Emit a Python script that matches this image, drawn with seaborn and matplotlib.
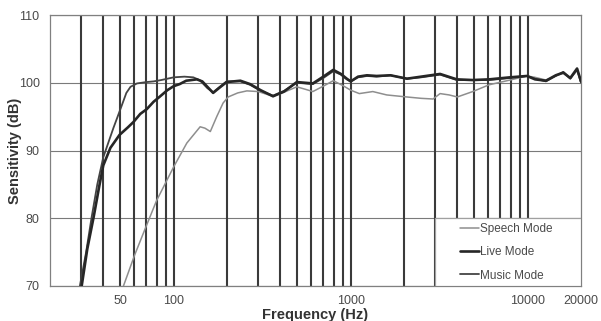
import matplotlib
matplotlib.use("Agg")
import matplotlib.pyplot as plt
from matplotlib.ticker import FixedLocator, FixedFormatter, NullLocator
from matplotlib.patches import Rectangle
import seaborn as sns
import pandas as pd

# ---- data ----
speech_f = [52, 60, 68.6, 80, 100, 118.6, 141, 150, 161, 175, 190, 203, 230, 259, 300,
            364, 420, 496, 560, 611, 700, 797, 900, 1000, 1118, 1333, 1598, 2078, 2500, 2918,
            3197, 3600, 4000, 4890, 6053, 7949, 9900, 11000, 12677, 14400, 15886, 17400, 19000, 20000]
speech_db = [70, 74.5, 78.3, 82.6, 87.6, 91.1, 93.5, 93.3, 92.8, 95.0, 97.0, 97.9, 98.5, 98.8, 98.7,
             98.0, 98.6, 99.4, 99.0, 98.7, 99.5, 100.3, 99.6, 98.9, 98.4, 98.7, 98.2, 97.9, 97.7, 97.6,
             98.4, 98.2, 97.9, 98.7, 99.7, 100.4, 101.0, 100.8, 100.4, 101.0, 101.4, 100.6, 101.8, 100.0]

live_f = [30.2, 32.5, 35.3, 38, 40, 43.9, 49.4, 55, 59.2, 64.7, 70.4, 77, 83, 92, 100,
          108, 117.6, 135, 145, 155, 167, 180, 199, 238, 270, 310, 364, 420, 496, 611,
          700, 797, 880, 950, 1000, 1100, 1235, 1400, 1678, 2078, 2500, 3197, 3975, 4890, 6053,
          7949, 9900, 11000, 12677, 14400, 15886, 17400, 19000, 20000]
live_db = [70, 75.5, 80.2, 84.8, 87.8, 90.4, 92.3, 93.4, 94.2, 95.4, 96.1, 97.2, 97.9, 98.9, 99.5,
           99.8, 100.3, 100.5, 100.2, 99.4, 98.5, 99.2, 100.1, 100.3, 99.8, 98.9, 98.0, 98.7, 100.1, 99.9,
           100.9, 101.9, 101.3, 100.6, 100.2, 100.9, 101.1, 101.0, 101.1, 100.6, 100.9, 101.3, 100.5, 100.4, 100.5,
           100.8, 101.0, 100.5, 100.3, 101.1, 101.5, 100.7, 102.1, 100.2]

music_f = [29.5, 32, 34.4, 37, 40, 45.6, 50.8, 54, 57, 62, 70, 77, 85, 100, 115,
           129, 140, 155, 167, 180, 199, 238, 270, 310, 364, 420, 496, 611, 700, 797,
           880, 950, 1000, 1100, 1235, 1400, 1678, 2078, 2500, 3197, 3975, 4890, 6053, 7949, 9900,
           11000, 12677, 14400, 15886, 17400, 19000, 20000]
music_db = [70, 75, 80.2, 85, 89, 93.3, 96.6, 98.5, 99.4, 99.9, 100.1, 100.2, 100.4, 100.8, 100.9,
            100.8, 100.4, 99.2, 98.6, 99.3, 100.2, 100.2, 99.7, 98.8, 98.1, 98.8, 100.0, 99.8, 100.7, 101.7,
            101.2, 100.5, 100.2, 100.8, 101.0, 100.9, 101.1, 100.6, 100.8, 101.2, 100.4, 100.4, 100.4, 100.7, 101.0,
            100.6, 100.2, 101.0, 101.6, 100.6, 102.0, 100.0]

x_tick_vals = [50, 100, 1000, 10000, 20000]
x_tick_labels = ["50", "100", "1000", "10000", "20000"]
x_grid_vals = [30, 40, 50, 60, 70, 80, 90, 100, 200, 300, 400, 500, 600, 700, 800, 900,
               1000, 2000, 3000, 4000, 5000, 6000, 7000, 8000, 9000, 10000]
y_tick_vals = [70, 80, 90, 100, 110]

# ---- style ----
sns.set_theme(style="white")
plt.rcParams['font.family'] = ['Liberation Sans', 'DejaVu Sans']

fig = plt.figure(figsize=(6.01, 3.21), dpi=100)
ax = fig.add_axes([50/601, 35/321, 531/601, 271/321])
ax.set_xscale("log")

speech = pd.DataFrame({"f": speech_f, "db": speech_db})
live = pd.DataFrame({"f": live_f, "db": live_db})
music = pd.DataFrame({"f": music_f, "db": music_db})

sns.lineplot(data=speech, x="f", y="db", ax=ax, color="#8e8e8e", lw=1.1,
             label="Speech Mode", zorder=3, sort=False)
sns.lineplot(data=music, x="f", y="db", ax=ax, color="#444444", lw=1.3,
             label="Music Mode", zorder=4, sort=False)
sns.lineplot(data=live, x="f", y="db", ax=ax, color="#262626", lw=1.9,
             label="Live Mode", zorder=5, sort=False)

ax.set_xlim(20, 20000)
ax.set_ylim(70, 110)

ax.xaxis.set_major_locator(FixedLocator(x_tick_vals))
ax.xaxis.set_major_formatter(FixedFormatter(x_tick_labels))
ax.xaxis.set_minor_locator(NullLocator())
ax.yaxis.set_minor_locator(NullLocator())
ax.set_yticks(y_tick_vals)

ax.grid(False)
for gv in x_grid_vals:
    ax.axvline(gv, color="#3a3a3a", lw=1.5, zorder=1)
ax.grid(which="major", axis="y", color="#7a7a7a", lw=0.8, zorder=1)
ax.set_axisbelow(True)

ax.tick_params(axis="both", which="both", length=0, labelsize=9, colors="#4a4a4a")
ax.tick_params(axis="x", pad=6.5)
ax.tick_params(axis="y", pad=7.5)

for s in ax.spines.values():
    s.set_color("#808080")
    s.set_linewidth(0.9)

ax.set_xlabel("Frequency (Hz)", fontsize=10.5, fontweight="bold", color="#333333", labelpad=0.5)
ax.set_ylabel("Sensitivity (dB)", fontsize=10.5, fontweight="bold", color="#333333")
ax.yaxis.set_label_coords(-0.052, 0.5)

# legend box
ax.add_patch(Rectangle((0.725, 0.0), 0.275, 0.251, transform=ax.transAxes,
                       facecolor="white", edgecolor="#a0a0a0", lw=0.9, zorder=6))
handles, labels = ax.get_legend_handles_labels()
order = [labels.index("Speech Mode"), labels.index("Live Mode"), labels.index("Music Mode")]
leg = ax.legend([handles[i] for i in order], [labels[i] for i in order],
                loc="upper left", bbox_to_anchor=(0.772, 0.232), frameon=False,
                fontsize=8.5, handlelength=1.6, handletextpad=0.1, labelspacing=0.95,
                borderpad=0, borderaxespad=0)
leg.set_zorder(7)
for t in leg.get_texts():
    t.set_color("#4a4a4a")

fig.savefig("out.png", dpi=100)
